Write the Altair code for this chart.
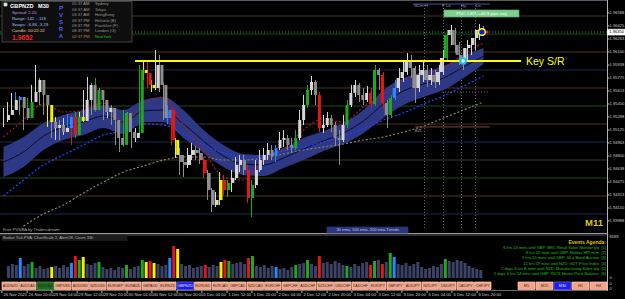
import altair as alt
import pandas as pd

# ---------------- data ----------------
first_open = 1.95250
close_px = [
 1.95313, 1.95375, 1.95500, 1.95538, 1.95400, 1.95275, 1.95475, 1.95600, 1.95750, 1.95563,
 1.95438, 1.95225, 1.95150, 1.95188, 1.95100, 1.95150, 1.95288, 1.95063, 1.95288, 1.95238,
 1.95500, 1.95688, 1.95375, 1.95625, 1.95500, 1.95350, 1.95400, 1.95250, 1.95025, 1.94938,
 1.95338, 1.95100, 1.95025, 1.95088, 1.95875, 1.95838, 1.95688, 1.95650, 1.95938, 1.95688,
 1.95275, 1.95375, 1.95000, 1.94813, 1.94725, 1.94688, 1.94813, 1.94875, 1.94838, 1.94750,
 1.94588, 1.94375, 1.94188, 1.94250, 1.94500, 1.94375, 1.94463, 1.94525, 1.94688, 1.94750,
 1.94625, 1.94275, 1.94438, 1.94625, 1.94750, 1.94813, 1.94875, 1.94800, 1.94900, 1.95000,
 1.95025, 1.94938, 1.94900, 1.95025, 1.95250, 1.95438, 1.95625, 1.95725, 1.95563, 1.95150,
 1.95188, 1.95275, 1.95188, 1.95025, 1.95000, 1.95188, 1.95438, 1.95588, 1.95688, 1.95563,
 1.95500, 1.95588, 1.95450, 1.95875, 1.95813, 1.95463, 1.95313, 1.95525, 1.95650, 1.95775,
 1.95850, 1.95975, 1.95900, 1.95650, 1.95813, 1.95875, 1.95750, 1.95813, 1.95725, 1.95850,
 1.96025, 1.96313, 1.96375, 1.96188, 1.96063, 1.95975, 1.96150, 1.96188, 1.96275, 1.96375,
 1.96350]
high_px = [
 1.95400, 1.95475, 1.95588, 1.95600, 1.95550, 1.95438, 1.95525, 1.95688, 1.95938, 1.95775,
 1.95600, 1.95450, 1.95275, 1.95288, 1.95250, 1.95275, 1.95325, 1.95313, 1.95350, 1.95350,
 1.95625, 1.95788, 1.95713, 1.95775, 1.95650, 1.95525, 1.95500, 1.95438, 1.95275, 1.95100,
 1.95375, 1.95350, 1.95150, 1.95150, 1.95938, 1.95975, 1.96000, 1.95750, 1.96125, 1.96063,
 1.95713, 1.95438, 1.95400, 1.95025, 1.94900, 1.94813, 1.94900, 1.94963, 1.94925, 1.94900,
 1.94788, 1.94625, 1.94400, 1.94350, 1.94600, 1.94563, 1.94500, 1.94625, 1.94788, 1.94813,
 1.94813, 1.94688, 1.94500, 1.94750, 1.94875, 1.94900, 1.94963, 1.94938, 1.94938, 1.95100,
 1.95125, 1.95063, 1.95025, 1.95125, 1.95375, 1.95563, 1.95688, 1.95800, 1.95750, 1.95600,
 1.95313, 1.95350, 1.95313, 1.95225, 1.95125, 1.95313, 1.95500, 1.95688, 1.95750, 1.95713,
 1.95650, 1.95675, 1.95650, 1.95938, 1.95900, 1.95850, 1.95500, 1.95563, 1.95750, 1.95900,
 1.95975, 1.96088, 1.96063, 1.95925, 1.95938, 1.95975, 1.95938, 1.95900, 1.95875, 1.95938,
 1.96125, 1.96375, 1.96438, 1.96400, 1.96225, 1.96150, 1.96250, 1.96275, 1.96375, 1.96450,
 1.96425]
low_px = [
 1.95163, 1.95225, 1.95350, 1.95425, 1.95313, 1.95125, 1.95250, 1.95450, 1.95563, 1.95438,
 1.95313, 1.95163, 1.95025, 1.95000, 1.95000, 1.95063, 1.95125, 1.94938, 1.95025, 1.95200,
 1.95225, 1.95475, 1.95313, 1.95350, 1.95400, 1.95250, 1.95275, 1.95188, 1.94938, 1.94850,
 1.94913, 1.95000, 1.94900, 1.94975, 1.95063, 1.95750, 1.95650, 1.95600, 1.95625, 1.95600,
 1.95250, 1.95200, 1.94938, 1.94775, 1.94563, 1.94538, 1.94650, 1.94750, 1.94750, 1.94700,
 1.94525, 1.94250, 1.94100, 1.94163, 1.94188, 1.94313, 1.94288, 1.94350, 1.94500, 1.94600,
 1.94563, 1.94213, 1.94038, 1.94400, 1.94600, 1.94688, 1.94750, 1.94750, 1.94725, 1.94875,
 1.94913, 1.94875, 1.94850, 1.94875, 1.95000, 1.95188, 1.95400, 1.95563, 1.95438, 1.95100,
 1.95088, 1.95163, 1.95100, 1.94938, 1.94688, 1.94975, 1.95150, 1.95413, 1.95538, 1.95475,
 1.95438, 1.95475, 1.95400, 1.95425, 1.95625, 1.95400, 1.95150, 1.95275, 1.95500, 1.95600,
 1.95725, 1.95813, 1.95775, 1.95463, 1.95600, 1.95725, 1.95663, 1.95688, 1.95650, 1.95688,
 1.95813, 1.96000, 1.96188, 1.96088, 1.95938, 1.95875, 1.95975, 1.96063, 1.96125, 1.96250,
 1.96300]
# PVSRA candle class: w normal, g green climax, r red climax, b blue, y yellow
pvsra = list("wwwbwwgwww" "wywwwwbrgy" "wwwgwwwwww" "gwwwgyryww" "wbrywwwwww"
             "rwwwyrgwww" "wrgwwwwwbw" "wwwgwwgwwr" "wwwwwwgwww" "wwrgwrwgbw"
             "wwwwwwwwww" "wgwwwwwwwww")
tick_volume = [
 2400, 2800, 2600, 4000, 2400, 2800, 3200, 2000, 2400, 1800,
 2000, 2200, 2400, 2000, 2600, 2200, 3000, 4400, 3600, 4200,
 2800, 2600, 3000, 3200, 2200, 1800, 2000, 1600, 2200, 2000,
 2600, 1800, 2200, 2400, 3600, 3200, 3400, 3000, 2800, 2400,
 2600, 4000, 6400, 5800, 2800, 2400, 2600, 2000, 2200, 2400,
 2600, 2200, 2600, 2400, 3200, 3600, 3400, 2800, 3000, 3200,
 2800, 4000, 4400, 2400, 2200, 2600, 2000, 2400, 2200, 1800,
 2000, 1600, 2200, 2600, 2800, 3000, 3600, 2800, 2400, 4400,
 3000, 3200, 2800, 3400, 3000, 2600, 2400, 2200, 2800, 2400,
 3000, 3200, 2600, 3400, 3600, 2800, 3200, 5000, 4200, 2800,
 2600, 3000, 2400, 2800, 3200, 2200, 1800, 2000, 2400, 2200,
 2800, 3800, 3400, 3200, 3600, 3400, 3000, 2400, 2000, 1800, 1600]

ma_bars = [0, 5, 10, 15, 20, 25, 30, 35, 40, 45, 50, 55, 60, 65, 70, 75, 80, 85, 90, 95, 100, 105, 110, 115, 120]
band_upper = [1.94913, 1.95038, 1.95213, 1.95313, 1.95375, 1.95438, 1.95375, 1.95500, 1.95538, 1.95375,
              1.95125, 1.94938, 1.94825, 1.94813, 1.94900, 1.95025, 1.95113, 1.95213, 1.95375, 1.95625,
              1.95775, 1.95850, 1.95925, 1.96050, 1.96150]
band_lower = [1.94538, 1.94663, 1.94875, 1.95000, 1.95063, 1.95150, 1.95075, 1.95225, 1.95225, 1.95025,
              1.94838, 1.94663, 1.94563, 1.94550, 1.94650, 1.94750, 1.94863, 1.94950, 1.95088, 1.95275,
              1.95438, 1.95538, 1.95625, 1.95775, 1.95950]
ema_center = [1.94725, 1.94850, 1.95050, 1.95163, 1.95225, 1.95300, 1.95225, 1.95363, 1.95375, 1.95200,
              1.94988, 1.94800, 1.94700, 1.94688, 1.94775, 1.94888, 1.94988, 1.95088, 1.95238, 1.95450,
              1.95613, 1.95700, 1.95775, 1.95913, 1.96050]
ema_blue = [1.94300, 1.94500, 1.94688, 1.94813, 1.94938, 1.95063, 1.95113, 1.95200, 1.95188, 1.95075,
            1.94938, 1.94838, 1.94788, 1.94800, 1.94863, 1.94913, 1.94975, 1.95050, 1.95138, 1.95250,
            1.95338, 1.95450, 1.95550, 1.95675, 1.95800]
ma_red = [1.95038, 1.95250, 1.95450, 1.95350, 1.95375, 1.95463, 1.95225, 1.95438, 1.95538, 1.95188,
          1.94875, 1.94538, 1.94500, 1.94750, 1.94888, 1.95125, 1.95263, 1.95225, 1.95413, 1.95563,
          1.95750, 1.95838, 1.95900, 1.96075, 1.96213]
olive_bars = ma_bars[1:]
ema_olive = [1.93925, 1.94075, 1.94188, 1.94338, 1.94475, 1.94600, 1.94675, 1.94750, 1.94788, 1.94788,
             1.94750, 1.94750, 1.94775, 1.94825, 1.94875, 1.94913, 1.94950, 1.95000, 1.95038, 1.95100,
             1.95175, 1.95275, 1.95375, 1.95475]

levels = [1.96550, 1.96325, 1.96100, 1.95875, 1.95650, 1.95425, 1.95200, 1.94975, 1.94750, 1.94525, 1.94300, 1.94075]
level_colors = ["#4a3420", "#1c4a1c", "#4a3420", "#1c2a55"] * 3

key_sr_level = 1.95988
key_sr_from, key_sr_to = 32.9, 129.4
bid_price = 1.96350
session_bars = [105.25, 110, 114.5, 118]

price_ticks = [1.96588, 1.96425, 1.96263, 1.96100, 1.95938, 1.95775, 1.95613, 1.95450, 1.95288,
               1.95125, 1.94963, 1.94800, 1.94638, 1.94475, 1.94313, 1.94150, 1.93988]

time_labels = ["26 Nov 2021", "26 Nov 20:00", "29 Nov 04:00", "29 Nov 12:00", "29 Nov 20:00",
               "30 Nov 04:00", "30 Nov 12:00", "30 Nov 20:00", "1 Dec 04:00", "1 Dec 12:00",
               "1 Dec 20:00", "2 Dec 04:00", "2 Dec 12:00", "2 Dec 20:00", "3 Dec 04:00",
               "3 Dec 12:00", "3 Dec 20:00", "6 Dec 04:00", "6 Dec 12:00", "6 Dec 20:00"]
time_label_bars = [-0.4, 5.9, 12.1, 18.4, 24.6, 30.9, 37.1, 43.4, 49.6, 55.9, 62.1, 68.4, 74.6,
                   80.9, 87.1, 93.4, 99.6, 105.9, 112.1, 118.4]

pair_buttons = ["AUDNZD", "AUDCAD", "NZDCAD", "GBPUSD", "AUDUSD", "NZDUSD", "EURGBP", "EURAUD",
                "GBPAUD", "EURNZD", "GBPNZD", "EURUSD", "EURCAD", "GBPCAD", "NZDCAD", "EURCHF",
                "GBPCHF", "AUDCHF", "NZDCHF", "USDCHF", "CADCHF", "EURJPY", "GBPJPY", "AUDJPY",
                "NZDJPY", "USDJPY", "CADJPY", "CHFJPY"]
tf_buttons = ["M5", "M15", "M30", "H1", "H4"]

events = ["6 hrs 24 mins until GBP: BRC Retail Sales Monitor y/y",
          "8 hrs 22 mins until GBP: Halifax HPI m/m",
          "9 hrs 55 mins until GBP: 30-y Bond Auction",
          "15 hrs 59 mins until NZD: GDT Price Index",
          "2 days 3 hrs 8 mins until NZD: Manufacturing Sales q/q",
          "2 days 4 hrs 24 mins until GBP: RICS House Price Balance"]

sessions = ["Sydney", "Tokyo", "HongKong", "Helsinki (B)", "Frankfurt (F)", "London (G)", "NewYork"]
session_times = ["05:37 AM", "04:37 AM", "03:37 AM", "09:37 PM", "09:37 PM", "08:37 PM", "02:37 PM"]

# ---------------- scales ----------------
XS = alt.Scale(domain=[-0.875, 155.375], range=[0, 625], zero=False, nice=False)
YS = alt.Scale(domain=[1.9675 - 0.000125 * 299, 1.9675], range=[299, 0], zero=False, nice=False)
VS = alt.Scale(domain=[-21 * 199.74, 278 * 199.74], range=[299, 0], zero=False, nice=False)
FONT = "Liberation Sans"


def XB(f):
    return alt.X(f, scale=XS, axis=None)


def YP(f):
    return alt.Y(f, scale=YS, axis=None)


def XN(f):
    return alt.X(f, scale=None, axis=None)


def YN(f):
    return alt.Y(f, scale=None, axis=None)


COL = {"g": "#1fa81f", "r": "#e01818", "b": "#2a86ff", "y": "#f0f000"}

n = len(close_px)
opens = [first_open] + close_px[:-1]
rows = []
for i in range(n):
    o, c, k = opens[i], close_px[i], pvsra[i]
    if k == "w":
        col = "#d6d6d6" if c >= o else "#8e8e8e"
        vcol = "#3b4263"
    else:
        col = COL[k]
        vcol = COL[k]
    rows.append(dict(bar=i, open=o, close=c, high=high_px[i], low=low_px[i],
                     col=col, vol=tick_volume[i], vcol=vcol))
cdf = pd.DataFrame(rows)

ma_df = pd.DataFrame(dict(bar=ma_bars, up=band_upper, lo=band_lower, mid=ema_center,
                          blue=ema_blue, red=ma_red))
olive_df = pd.DataFrame(dict(bar=olive_bars, v=ema_olive))


def rects(rows_):
    df = pd.DataFrame(rows_, columns=["x", "x2", "y", "y2", "fill", "stroke"])
    return alt.Chart(df).mark_rect(strokeWidth=0.7).encode(
        x=XN("x:Q"), x2="x2:Q", y=YN("y:Q"), y2="y2:Q",
        fill=alt.Fill("fill:N", scale=None), stroke=alt.Stroke("stroke:N", scale=None))


def texts(rows_, align="left", weight="normal", baseline="middle"):
    df = pd.DataFrame(rows_, columns=["t", "x", "y", "c", "s"])
    return alt.Chart(df).mark_text(align=align, baseline=baseline, fontWeight=weight, font=FONT).encode(
        x=XN("x:Q"), y=YN("y:Q"), text="t:N",
        color=alt.Color("c:N", scale=None), size=alt.Size("s:Q", scale=None))


def hrules(rows_, width=1):
    df = pd.DataFrame(rows_, columns=["x", "x2", "y", "y2", "c"])
    return alt.Chart(df).mark_rule(strokeWidth=width).encode(
        x=XN("x:Q"), x2="x2:Q", y=YN("y:Q"), y2="y2:Q",
        color=alt.Color("c:N", scale=None))


layers = []

# level lines
layers.append(alt.Chart(pd.DataFrame(dict(level=levels, c=level_colors))).mark_rule(strokeWidth=1).encode(
    y=YP("level:Q"), x=alt.value(0), x2=alt.value(607), color=alt.Color("c:N", scale=None)))

# session separators
layers.append(alt.Chart(pd.DataFrame(dict(bar=session_bars))).mark_rule(
    strokeDash=[1, 2], color="#6a6a6a", strokeWidth=1).encode(
    x=XB("bar:Q"), y=alt.value(5), y2=alt.value(230)))

# band and MAs
layers.append(alt.Chart(ma_df).mark_area(color="#2d3886", interpolate="monotone").encode(
    x=XB("bar:Q"), y=YP("up:Q"), y2="lo:Q"))
layers.append(alt.Chart(ma_df).mark_line(color="#0c0c20", strokeWidth=1, interpolate="monotone").encode(
    x=XB("bar:Q"), y=YP("mid:Q")))
layers.append(alt.Chart(ma_df).mark_line(color="#2040ff", strokeWidth=1.3, strokeDash=[2, 2],
                                         interpolate="monotone").encode(
    x=XB("bar:Q"), y=YP("blue:Q")))
layers.append(alt.Chart(olive_df).mark_line(color="#8c8c5a", strokeWidth=1.1, strokeDash=[2, 2],
                                            interpolate="monotone").encode(
    x=XB("bar:Q"), y=YP("v:Q")))
layers.append(alt.Chart(ma_df).mark_line(color="#c01818", strokeWidth=1.1, strokeDash=[2, 2],
                                         interpolate="monotone").encode(
    x=XB("bar:Q"), y=YP("red:Q")))

# extra levels near the right
extra = pd.DataFrame(dict(a=[109.6, 102.9], b=[121.1, 121.6], p=[1.95600, 1.95163],
                          c=["#a05090", "#8a3a3a"]))
layers.append(alt.Chart(extra.iloc[[0]]).mark_rule(strokeDash=[1, 2], strokeWidth=1).encode(
    x=XB("a:Q"), x2="b:Q", y=YP("p:Q"), color=alt.Color("c:N", scale=None)))
layers.append(alt.Chart(extra.iloc[[1]]).mark_rule(strokeWidth=1).encode(
    x=XB("a:Q"), x2="b:Q", y=YP("p:Q"), color=alt.Color("c:N", scale=None)))

# candles
layers.append(alt.Chart(cdf).mark_rule(strokeWidth=1).encode(
    x=XB("bar:Q"), y=YP("low:Q"), y2="high:Q", color=alt.Color("col:N", scale=None)))
layers.append(alt.Chart(cdf).mark_bar(size=3).encode(
    x=XB("bar:Q"), y=YP("open:Q"), y2="close:Q", color=alt.Color("col:N", scale=None)))

# bid line
layers.append(alt.Chart(pd.DataFrame(dict(p=[bid_price]))).mark_rule(
    strokeDash=[1, 2], color="#20a020", strokeWidth=1).encode(
    y=YP("p:Q"), x=alt.value(0), x2=alt.value(607)))

# key S/R
layers.append(alt.Chart(pd.DataFrame(dict(a=[key_sr_from], b=[key_sr_to], p=[key_sr_level]))).mark_rule(
    color="#ffff00", strokeWidth=2).encode(x=XB("a:Q"), x2="b:Q", y=YP("p:Q")))

# markers
layers.append(alt.Chart(pd.DataFrame(dict(b=[119.6], p=[bid_price]))).mark_point(
    filled=True, size=45, color="#1010ff", stroke="#ffff00", strokeWidth=1.5, opacity=1).encode(
    x=XB("b:Q"), y=YP("p:Q")))
layers.append(alt.Chart(pd.DataFrame(dict(b=[120.9], p=[bid_price]))).mark_point(
    filled=True, size=6, shape="square", color="#ff2020", opacity=1).encode(
    x=XB("b:Q"), y=YP("p:Q")))
layers.append(alt.Chart(pd.DataFrame(dict(b=[114.9], p=[key_sr_level]))).mark_point(
    filled=True, size=28, color="#ffffff", stroke="#10c8ff", strokeWidth=2, opacity=1).encode(
    x=XB("b:Q"), y=YP("p:Q")))

# volume bars (indicator window)
layers.append(alt.Chart(cdf).mark_bar(size=3).encode(
    x=XB("bar:Q"), y=alt.Y("vol:Q", scale=VS, axis=None), y2=alt.datum(0),
    color=alt.Color("vcol:N", scale=None)))

# frame lines
layers.append(hrules([
    (0, 607, 0.5, 0.5, "#5a5a5a"),
    (0, 607, 233.5, 233.5, "#9a9a9a"),
    (0, 607, 235, 235, "#5a5a5a"),
    (0, 607, 290.5, 290.5, "#6a6a6a"),
    (607.5, 607.5, 0, 291, "#b4b4b4"),
]))
# price axis ticks and labels
layers.append(alt.Chart(pd.DataFrame(dict(p=price_ticks))).mark_rule(color="#b4b4b4").encode(
    y=YP("p:Q"), x=alt.value(607.5), x2=alt.value(609.5)))
layers.append(alt.Chart(pd.DataFrame(dict(p=price_ticks, t=[f"{v:.5f}" for v in price_ticks]))).mark_text(
    align="left", baseline="middle", fontSize=4.1, color="#c8c8c8", font=FONT).encode(
    y=YP("p:Q"), x=alt.value(609.6), text="t:N"))

# time axis
layers.append(alt.Chart(pd.DataFrame(dict(b=time_label_bars))).mark_rule(color="#b4b4b4").encode(
    x=XB("b:Q"), y=alt.value(290.5), y2=alt.value(293)))
layers.append(alt.Chart(pd.DataFrame(dict(b=time_label_bars, t=time_labels))).mark_text(
    align="left", baseline="middle", dx=1.5, fontSize=4.2, color="#cfcfcf", font=FONT).encode(
    x=XB("b:Q"), y=alt.value(294.5), text="t:N"))

# ---------------- panels and buttons ----------------
panel_rects = [
    (2, 132, 1.5, 42, "#0e0e0e", "#5c5c5c"),       # info panel
    (4, 7, 3, 6, "#e0e0e0", "#e0e0e0"),            # icon
    (444, 519, 10, 17, "#7fcf8f", "#5fa86f"),       # PDC box
    (327, 408, 227, 233, "#2b3480", "#2b3480"),     # ema trends label
    (2, 127, 235.5, 240.5, "#1c1c1c", "#1c1c1c"),   # indicator title box
    (607.5, 625, 29.3, 35, "#ffffff", "#ffffff"),   # bid price box
]
btn = []
for k, name in enumerate(pair_buttons):
    x0 = 2 + 17.5 * k
    if k == 2:
        f, s = "#1d6b1d", "#48a048"
    elif k == 10:
        f, s = "#1c1cf0", "#6a6aff"
    else:
        f, s = "#f6a486", "#ffd0bc"
    btn.append((x0, x0 + 16.5, 282, 289.5, f, s))
for k, name in enumerate(tf_buttons):
    x0 = 518 + 18 * k
    if name == "M30":
        f, s = "#1c1cf0", "#6a6aff"
    else:
        f, s = "#f6a486", "#ffd0bc"
    btn.append((x0, x0 + 17, 282, 289.5, f, s))
layers.append(rects(panel_rects + btn))

# top-right markers line
layers.append(hrules([(413, 490, 4, 4, "#4a4aa0")]))

btn_txt = []
for k, name in enumerate(pair_buttons):
    btn_txt.append((name, 2 + 17.5 * k + 8.25, 285.9, "#e8e8ff" if k == 10 else "#2a2a2a", 3.6))
for k, name in enumerate(tf_buttons):
    btn_txt.append((name, 518 + 18 * k + 8.5, 285.9, "#e8e8ff" if name == "M30" else "#2a2a2a", 3.8))
btn_txt += [
    ("PDC 1 EP, +40.9 pips avg", 481.5, 13.6, "#f0fff0", 4.4),
    ("30 ema, 100 ema, 200 ema Trends", 367.5, 230.2, "#c8c8dc", 4.0),
]
layers.append(texts(btn_txt, align="center"))
layers.append(texts([(ch, 61, 7.5 + 7.0 * j, "#4a5cff", 6.0) for j, ch in enumerate("PVSRA")],
                    align="center", weight="bold"))

left_txt = [
    ("Spread: 2.20", 12, 13, "#c88ae8", 4.3),
    ("Range: 142  ...118", 12, 19.3, "#9ec4ff", 4.3),
    ("Swaps: -6.86  -3.29", 12, 25.3, "#9ec4ff", 4.3),
    ("Candle: 00:22:22", 12, 31, "#e8d890", 4.3),
    ("Free PVSRA by Tradersdream", 3, 229.8, "#a8a8a8", 4.2),
    ("Broker Tick PVA:  ChartScale 2, AlertOff, Count 330", 3, 238.1, "#b8b8b8", 4.0),
    ("Key S/R", 526, 61.5, "#ffff00", 10.5),
    ("BZL", 415, 130.5, "#a0a0a0", 4.0),
    ("NCm", 414, 5.5, "#9090c8", 4.2),
    ("H", 425, 5.5, "#9090c8", 4.2),
    ("P Lo", 442, 5.5, "#9090c8", 4.2),
    ("Hy", 461, 5.5, "#9090c8", 4.2),
    ("Lo", 476, 5.5, "#9090c8", 4.2),
    ("8589", 609.5, 236.8, "#c8c8c8", 4.1),
    ("0", 609.5, 277.5, "#c8c8c8", 4.1),
    ("0", 609.5, 283.5, "#c8c8c8", 4.1),
    ("0", 609.5, 288.5, "#c8c8c8", 4.1),
    ("1.96350", 609.3, 32.2, "#000000", 4.1),
]
for j, (tm, nm) in enumerate(zip(session_times, sessions)):
    yy = 4.3 + 5.4 * j
    left_txt.append((tm, 72, yy, "#c08040" if j == 6 else "#9a9a9a", 4.1))
    left_txt.append((nm, 95, yy, "#20c020" if j == 6 else "#9a9a9a", 4.1))
for j in range(len(events)):
    left_txt.append((f"[{j + 1}]", 601.5, 248 + 5.2 * j, "#20c020", 4.0))
layers.append(texts(left_txt))

layers.append(texts([(e, 599, 248 + 5.2 * j, "#20c020", 4.0) for j, e in enumerate(events)], align="right"))
layers.append(texts([("Events Agenda:", 606, 242.3, "#d8c400", 5.0)], align="right", weight="bold"))

bold_txt = [
    ("GBPNZD", 10, 5.8, "#ffffff", 5.6),
    ("M30", 38, 5.8, "#ffffff", 5.6),
    ("1.9652", 12, 38, "#ff2020", 6.8),
    ("M11", 585, 223, "#d8c800", 9.5),
]
layers.append(texts(bold_txt, weight="bold"))

chart = alt.layer(*layers).properties(
    width=625, height=299, padding=0, background="#000000",
    autosize=alt.AutoSizeParams(type="none"),
).resolve_scale(
    x="independent", y="independent", color="independent", size="independent",
    fill="independent", stroke="independent",
).configure_view(stroke=None)

chart.save("out.html", embed_options={"renderer": "svg", "actions": False})
